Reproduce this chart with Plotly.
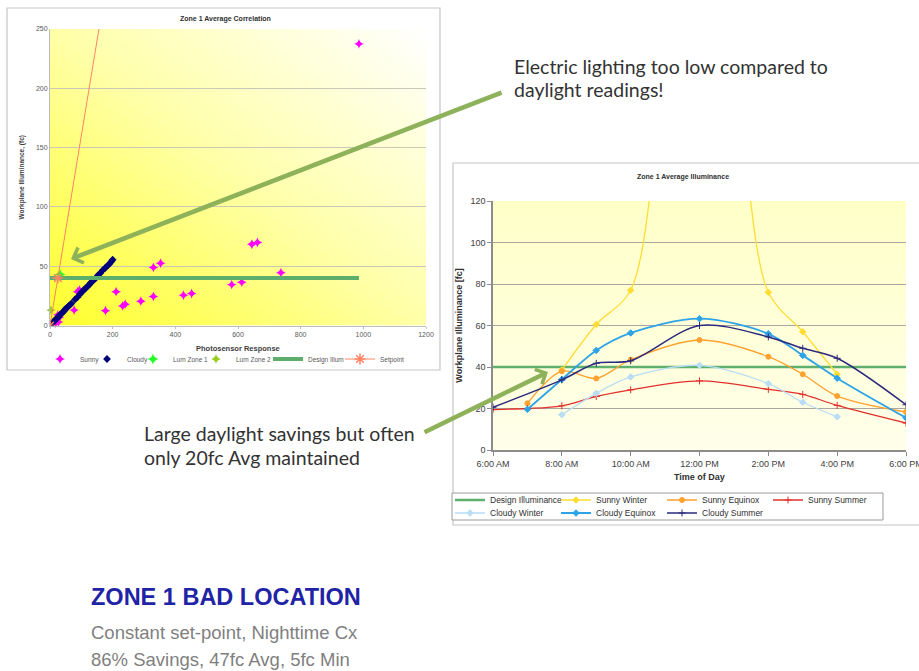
import base64
import plotly.graph_objects as go

W, H = 919, 671

# ---------------- Zone 1 Average Correlation ----------------
sunny_x = [986, 330, 353, 211, 177, 232, 240, 290, 330, 426, 452, 580, 612,
           644, 662, 737, 77, 88, 94, 27, 22, 30, 25, 18]
sunny_y = [237.5, 49, 52.5, 28.5, 12.5, 16.5, 18, 20.5, 24.5, 25.5, 27, 34.5,
           36.5, 68.5, 70, 44.5, 13, 28.5, 30, 3, 5, 7, 9, 2]

cloudy_x = [8, 12, 16, 20, 24, 28, 32, 36, 40, 44, 48, 52, 56, 62, 68, 80, 88,
            96, 100, 106, 112, 118, 124, 130, 136, 142, 148, 154, 160, 168,
            176, 184, 190, 196, 200]
cloudy_y = [2, 3.5, 4.5, 5.5, 6.5, 7.5, 9, 10, 11, 12, 13.5, 14.5, 15.5, 17,
            18.5, 22, 24, 26.5, 28, 29.5, 31, 32.5, 34, 36, 37.5, 39, 40.5,
            42.5, 44, 46.5, 48.5, 50.5, 52, 54, 55.5]

lum1_x, lum1_y = [32], [43]
lum2_x, lum2_y = [3], [13]
design_x, design_y = [0, 986], [40, 40]
setpoint_x, setpoint_y = [0, 25, 160], [0, 40, 256]

corr_x_ticks = [0, 200, 400, 600, 800, 1000, 1200]
corr_y_ticks = [0, 50, 100, 150, 200, 250]

# ---------------- Zone 1 Average Illuminance ----------------
hour_ticks = [6, 8, 10, 12, 14, 16, 18]
hour_labels = ["6:00 AM", "8:00 AM", "10:00 AM", "12:00 PM", "2:00 PM",
               "4:00 PM", "6:00 PM"]
illum_y_ticks = [0, 20, 40, 60, 80, 100, 120]

design_h, design_v = [6, 18], [40, 40]
sunny_winter_h = [8, 9, 10, 11, 12, 13, 14, 15, 16]
sunny_winter_v = [38.5, 60.5, 77, 175, 230, 180, 76, 57, 36.5]
sunny_equinox_h = [7, 8, 9, 10, 12, 14, 15, 16, 18]
sunny_equinox_v = [22.5, 38, 34.5, 43.5, 53, 45, 36.5, 26, 18.3]
sunny_summer_h = [6, 7, 8, 9, 10, 12, 14, 15, 16, 18]
sunny_summer_v = [19.5, 20, 21.3, 25.8, 29, 33.3, 29.2, 26.8, 21.5, 13]
cloudy_winter_h = [8, 9, 10, 12, 14, 15, 16]
cloudy_winter_v = [17, 27.3, 35.2, 40.8, 32, 23, 16]
cloudy_equinox_h = [7, 8, 9, 10, 12, 14, 15, 16, 18]
cloudy_equinox_v = [19.6, 34, 48, 56.4, 63.3, 56, 45.6, 34.6, 15.5]
cloudy_summer_h = [6, 8, 9, 10, 12, 14, 15, 16, 18]
cloudy_summer_v = [20.6, 33.8, 41.8, 43, 60, 54.5, 49, 44.2, 21.8]


def px(x):
    return x / W


def py(y):
    return 1 - y / H


def svg_uri(svg):
    return "data:image/svg+xml;base64," + base64.b64encode(svg.encode()).decode()


diag_fill = svg_uri(
    '<svg xmlns="http://www.w3.org/2000/svg" width="100" height="100" '
    'viewBox="0 0 100 100" preserveAspectRatio="none"><defs>'
    '<linearGradient id="g" x1="0" y1="1" x2="1" y2="0">'
    '<stop offset="0" stop-color="#FFFF2A"/>'
    '<stop offset="0.5" stop-color="#FFFFA8"/>'
    '<stop offset="1" stop-color="#FFFFFF"/>'
    '</linearGradient></defs><rect width="100" height="100" fill="url(#g)"/></svg>')
pale_fill = svg_uri(
    '<svg xmlns="http://www.w3.org/2000/svg" width="100" height="100" '
    'viewBox="0 0 100 100" preserveAspectRatio="none"><defs>'
    '<linearGradient id="g" x1="0" y1="0" x2="0" y2="1">'
    '<stop offset="0" stop-color="#FFFFC8"/>'
    '<stop offset="1" stop-color="#FFFFEA"/>'
    '</linearGradient></defs><rect width="100" height="100" fill="url(#g)"/></svg>')

fig = go.Figure()

# scatter chart traces (x / y), each with its own legend slot
fig.add_trace(go.Scatter(x=sunny_x, y=sunny_y, mode="markers", name="Sunny",
                         marker=dict(symbol="star-diamond", size=7, color="#FF00FF"),
                         cliponaxis=False, legend="legend"))
fig.add_trace(go.Scatter(x=cloudy_x, y=cloudy_y, mode="markers", name="Cloudy",
                         marker=dict(symbol="diamond", size=6, color="#00007A"),
                         cliponaxis=False, legend="legend2"))
fig.add_trace(go.Scatter(x=lum1_x, y=lum1_y, mode="markers", name="Lum Zone 1",
                         marker=dict(symbol="star-diamond", size=8, color="#22FF22"),
                         cliponaxis=False, legend="legend3"))
fig.add_trace(go.Scatter(x=lum2_x, y=lum2_y, mode="markers", name="Lum Zone 2",
                         marker=dict(symbol="star-diamond", size=7, color="#9ACD20"),
                         cliponaxis=False, legend="legend4"))
fig.add_trace(go.Scatter(x=design_x, y=design_y, mode="lines", name="Design Illum",
                         line=dict(color="#5DAE6B", width=4), legend="legend5"))
fig.add_trace(go.Scatter(x=setpoint_x, y=setpoint_y, mode="lines+markers",
                         name="Setpoint",
                         line=dict(color="#FF8466", width=1),
                         marker=dict(symbol="asterisk-open", size=9,
                                     line=dict(color="#E0522A", width=1.5)),
                         legend="legend6"))

# time-of-day chart traces (x2 / y2); first four in the top legend row
series = [
    ("Design Illuminance", design_h, design_v, "#5DB06E", 2.5, None, "legend7"),
    ("Sunny Winter", sunny_winter_h, sunny_winter_v, "#FFDD33", 1.3, "diamond", "legend7"),
    ("Sunny Equinox", sunny_equinox_h, sunny_equinox_v, "#FFA12E", 1.3, "circle", "legend7"),
    ("Sunny Summer", sunny_summer_h, sunny_summer_v, "#E2302D", 1.3, "cross-thin", "legend7"),
    ("Cloudy Winter", cloudy_winter_h, cloudy_winter_v, "#B9DDF5", 1.3, "diamond", "legend8"),
    ("Cloudy Equinox", cloudy_equinox_h, cloudy_equinox_v, "#2DA3E8", 1.8, "diamond", "legend8"),
    ("Cloudy Summer", cloudy_summer_h, cloudy_summer_v, "#2B2A7E", 1.5, "cross-thin", "legend8"),
]
for name, xs, ys, color, width, symbol, leg in series:
    if symbol is None:
        fig.add_trace(go.Scatter(x=xs, y=ys, mode="lines", name=name,
                                 line=dict(color=color, width=width),
                                 xaxis="x2", yaxis="y2", legend=leg))
    else:
        fig.add_trace(go.Scatter(x=xs, y=ys, mode="lines+markers", name=name,
                                 line=dict(color=color, width=width, shape="spline",
                                           smoothing=0.9),
                                 marker=dict(symbol=symbol, size=5, color=color,
                                             line=dict(color=color, width=1)),
                                 xaxis="x2", yaxis="y2", legend=leg))

small = dict(family="Liberation Sans, Arial, sans-serif", color="#404040")


def row_legend(left, center_y, size, color, step=None):
    # one horizontal legend row; entries `step` pixels apart when given
    leg = dict(orientation="h", xref="container", yref="container",
               x=px(left), xanchor="left", y=py(center_y), yanchor="middle",
               bgcolor="rgba(0,0,0,0)", borderwidth=0, itemwidth=30,
               font=dict(size=size, color=color))
    if step:
        leg["entrywidth"] = step - 45
    return leg


corr_leg = dict(size=6.5, color="#595959")

fig.update_layout(
    width=W, height=H, autosize=False,
    margin=dict(l=0, r=0, t=0, b=0, autoexpand=False),
    paper_bgcolor="white", plot_bgcolor="rgba(0,0,0,0)",
    font=small, showlegend=True,
    xaxis=dict(domain=[px(50), px(426)], range=[0, 1200], tickvals=corr_x_ticks,
               showgrid=False, zeroline=False, showline=True, linecolor="#BDBDBD",
               ticks="outside", ticklen=2, tickcolor="#BDBDBD",
               tickfont=dict(size=7, color="#595959"), anchor="y"),
    yaxis=dict(domain=[py(325.5), py(29)], range=[0, 250], tickvals=corr_y_ticks,
               showgrid=True, gridcolor="#C9C9B8", gridwidth=1, zeroline=False,
               showline=True, linecolor="#BDBDBD",
               tickfont=dict(size=7, color="#595959"),
               title=dict(text="<b>Workplane Illuminance, (fc)</b>", standoff=10,
                          font=dict(size=6.5, color="#404040")),
               anchor="x"),
    xaxis2=dict(domain=[px(493), px(906)], range=[6, 18], tickvals=hour_ticks,
                ticktext=hour_labels, showgrid=False, zeroline=False,
                showline=True, linecolor="#8C8C8C", linewidth=1.5,
                ticks="outside", ticklen=4, tickcolor="#8C8C8C",
                ticklabeloverflow="allow",
                tickfont=dict(size=9, color="#404040"), anchor="y2"),
    yaxis2=dict(domain=[py(450), py(201)], range=[0, 120], tickvals=illum_y_ticks,
                showgrid=True, gridcolor="#A8A8A0", gridwidth=1, zeroline=False,
                showline=True, linecolor="#8C8C8C", linewidth=1.5,
                ticks="outside", ticklen=4, tickcolor="#8C8C8C",
                tickfont=dict(size=9, color="#404040"),
                title=dict(text="<b>Workplane Illuminance [fc]</b>", standoff=6,
                           font=dict(size=9, color="#303030")),
                anchor="x2"),
    legend=row_legend(40, 359, **corr_leg),
    legend2=row_legend(87, 359, **corr_leg),
    legend3=row_legend(133, 359, **corr_leg),
    legend4=row_legend(196, 359, **corr_leg),
    legend5=row_legend(268, 359, **corr_leg),
    legend6=row_legend(340, 359, **corr_leg),
    legend7=row_legend(450, 500, 8.5, "#303030", step=106),
    legend8=row_legend(450, 513, 8.5, "#303030", step=106),
    images=[
        dict(source=diag_fill, xref="x domain", yref="y domain", x=0, y=1,
             sizex=1, sizey=1, sizing="stretch", layer="below",
             xanchor="left", yanchor="top"),
        dict(source=pale_fill, xref="x2 domain", yref="y2 domain", x=0, y=1,
             sizex=1, sizey=1, sizing="stretch", layer="below",
             xanchor="left", yanchor="top"),
    ],
    shapes=[
        dict(type="rect", xref="paper", yref="paper", x0=px(7), x1=px(440),
             y0=py(370), y1=py(8), line=dict(color="#C6C6C6", width=1.2),
             fillcolor="white", layer="below"),
        dict(type="rect", xref="paper", yref="paper", x0=px(453), x1=px(925),
             y0=py(525), y1=py(163), line=dict(color="#C6C6C6", width=1.2),
             fillcolor="white", layer="below"),
        # frame around the time-of-day legend rows
        dict(type="rect", xref="paper", yref="paper", x0=px(452), x1=px(883),
             y0=py(520), y1=py(493), line=dict(color="#9A9A9A", width=1),
             fillcolor="white", layer="below"),
    ],
)

notes = dict(family="Lato, Open Sans, sans-serif", size=19.5, color="#333333")
body = dict(family="Liberation Sans, Arial, sans-serif", size=18.5, color="#7F7F7F")

annotations = [
    # chart titles and x-axis titles
    dict(text="<b>Zone 1 Average Correlation</b>", x=px(225), y=py(19),
         xanchor="center", font=dict(size=7, color="#303030")),
    dict(text="<b>Photosensor Response</b>", x=px(238), y=py(348),
         xanchor="center", font=dict(size=7.5, color="#404040")),
    dict(text="<b>Zone 1 Average Illuminance</b>", x=px(683), y=py(177),
         xanchor="center", font=dict(size=7, color="#303030")),
    dict(text="<b>Time of Day</b>", x=px(699), y=py(477),
         xanchor="center", font=dict(size=9, color="#303030")),
    # callouts
    dict(text="Electric lighting too low compared to", x=px(512), y=py(66),
         xanchor="left", font=notes),
    dict(text="daylight readings!", x=px(512), y=py(90), xanchor="left", font=notes),
    dict(text="Large daylight savings but often", x=px(142), y=py(433),
         xanchor="left", font=notes),
    dict(text="only 20fc Avg maintained", x=px(142), y=py(457), xanchor="left",
         font=notes),
    # slide heading and summary
    dict(text="<b>ZONE 1 BAD LOCATION</b>", x=px(89), y=py(597), xanchor="left",
         font=dict(family="Liberation Sans, Arial, sans-serif", size=23.5,
                   color="#1F23A6")),
    dict(text="Constant set-point, Nighttime Cx", x=px(89), y=py(632),
         xanchor="left", font=body),
    dict(text="86% Savings, 47fc Avg, 5fc Min", x=px(89), y=py(659),
         xanchor="left", font=body),
    # green pointer arrows
    dict(text="", x=px(71), y=py(259), showarrow=True, axref="pixel",
         ayref="pixel", ax=503 - 71, ay=92 - 259, arrowhead=4, arrowsize=0.7,
         arrowwidth=4.5, arrowcolor="#8DB25A", standoff=0),
    dict(text="", x=px(548), y=py(372), showarrow=True, axref="pixel",
         ayref="pixel", ax=423 - 548, ay=433 - 372, arrowhead=4, arrowsize=0.7,
         arrowwidth=4.5, arrowcolor="#8DB25A", standoff=0),
]
for a in annotations:
    a.setdefault("xref", "paper")
    a.setdefault("yref", "paper")
    a.setdefault("showarrow", False)
    a.setdefault("yanchor", "middle")
    fig.add_annotation(**a)

fig.write_html("out.html")
